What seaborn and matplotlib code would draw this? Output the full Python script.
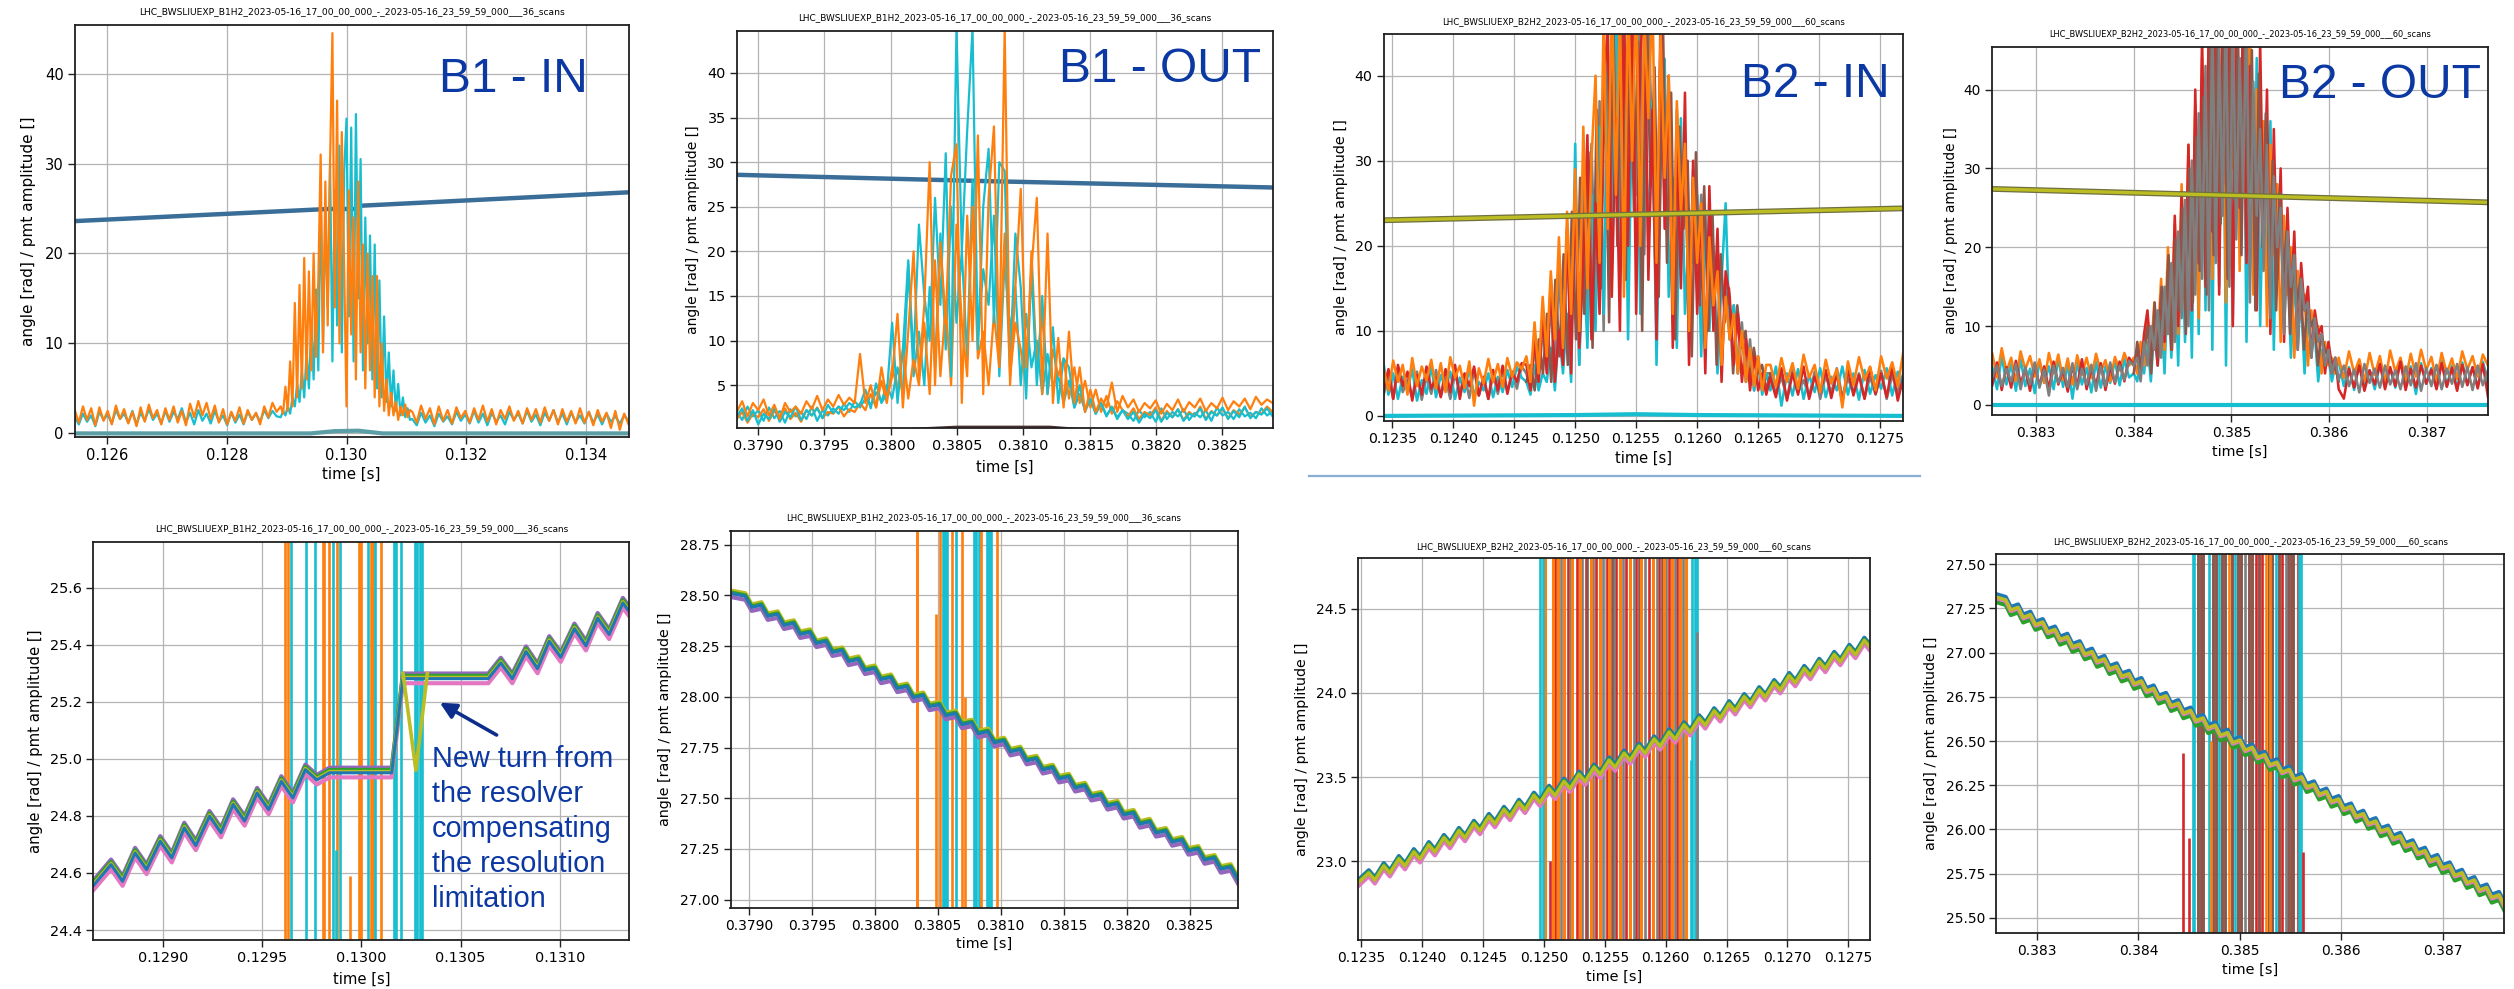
import numpy as np
import matplotlib
matplotlib.use("Agg")
import matplotlib.pyplot as plt
import seaborn as sns
from matplotlib.lines import Line2D
from matplotlib.patches import FancyArrowPatch

# ------------------------------------------------------------------ text
TITLE_B1 = "LHC_BWSLIUEXP_B1H2_2023-05-16_17_00_00_000_-_2023-05-16_23_59_59_000___36_scans"
TITLE_B2 = "LHC_BWSLIUEXP_B2H2_2023-05-16_17_00_00_000_-_2023-05-16_23_59_59_000___60_scans"
YLABEL = "angle [rad] / pmt amplitude []"
XLABEL = "time [s]"
TAGS = ["B1 - IN", "B1 - OUT", "B2 - IN", "B2 - OUT"]
NOTE = ["New turn from", "the resolver", "compensating", "the resolution", "limitation"]

# ------------------------------------------------------------------ tick labels
p1_xt = ["0.126", "0.128", "0.130", "0.132", "0.134"]
p1_yt = ["0", "10", "20", "30", "40"]
p2_xt = ["0.3790", "0.3795", "0.3800", "0.3805", "0.3810", "0.3815", "0.3820", "0.3825"]
p2_yt = ["5", "10", "15", "20", "25", "30", "35", "40"]
p3_xt = ["0.1235", "0.1240", "0.1245", "0.1250", "0.1255", "0.1260", "0.1265", "0.1270", "0.1275"]
p3_yt = ["0", "10", "20", "30", "40"]
p4_xt = ["0.383", "0.384", "0.385", "0.386", "0.387"]
p4_yt = ["0", "10", "20", "30", "40"]
p5_xt = ["0.1290", "0.1295", "0.1300", "0.1305", "0.1310"]
p5_yt = ["24.4", "24.6", "24.8", "25.0", "25.2", "25.4", "25.6"]
p6_xt = p2_xt
p6_yt = ["27.00", "27.25", "27.50", "27.75", "28.00", "28.25", "28.50", "28.75"]
p7_xt = p3_xt
p7_yt = ["23.0", "23.5", "24.0", "24.5"]
p8_xt = p4_xt
p8_yt = ["25.50", "25.75", "26.00", "26.25", "26.50", "26.75", "27.00", "27.25", "27.50"]

# ------------------------------------------------------------------ P1  B1 IN (time segments: baseline / burst / baseline)
p1_seg = [0.125455, 0.1289, 0.1311, 0.134717]
p1_orange = ([2.6, 1.2, 3.0, 1.5, 2.8, 0.9, 2.9, 1.4, 2.5, 1.0, 3.1, 1.6, 2.7, 1.1, 2.4, 0.8, 2.9, 1.3, 3.2, 1.7,
              2.6, 1.0, 2.8, 1.5, 3.0, 1.2, 2.5, 0.9, 3.3, 1.8, 3.6, 2.0, 3.4, 1.6, 3.1, 1.2, 2.7, 1.0, 2.4, 1.4,
              2.9, 1.1, 2.6, 1.5, 2.3, 1.0, 3.0, 1.8, 3.4, 2.4],
             [3.0, 2.2, 5.2, 2.5, 8.0, 3.0, 14.5, 4.0, 16.5, 5.0, 19.5, 6.0, 18.0, 7.0, 20.0, 8.5, 17.0, 31.0, 9.0, 28.0,
              12.0, 30.0, 44.5, 14.0, 37.0, 10.0, 33.5, 18.0, 3.0, 27.0, 11.0, 24.0, 6.0, 28.0, 9.0, 21.0, 5.0, 20.0, 7.0, 17.5,
              4.0, 17.5, 3.0, 10.0, 2.5, 6.0, 2.0, 4.5, 2.0, 3.5, 1.5, 3.0, 2.0, 3.2, 1.8, 2.6],
             [2.4, 1.2, 3.1, 1.6, 2.8, 1.0, 3.0, 1.4, 2.6, 1.1, 2.9, 1.7, 2.5, 1.2, 2.8, 1.5, 3.1, 1.3, 2.7, 1.0,
              2.6, 1.6, 3.0, 1.4, 2.5, 1.1, 2.8, 1.5, 2.7, 1.2, 2.9, 1.4, 2.6, 1.0, 2.7, 1.3, 2.5, 1.1, 2.8, 1.2,
              2.4, 0.9, 2.6, 1.3, 2.3, 0.6, 2.5, 0.4, 2.2, 1.0])
p1_cyan = ([1.8, 1.0, 2.2, 1.3, 2.0, 0.8, 2.4, 1.5, 2.1, 1.1, 2.6, 1.6, 2.2, 1.2, 2.5, 1.0, 2.3, 1.4, 2.7, 1.5,
            2.2, 1.1, 2.5, 1.3, 2.4, 1.6, 2.8, 1.2, 2.3, 1.0, 2.6, 1.4, 2.2, 1.1, 2.5, 1.3, 2.0, 0.9, 2.3, 1.2,
            2.1, 1.0, 2.4, 1.5, 2.2, 1.3, 2.6, 1.7, 2.5, 1.9],
           [1.8, 2.5, 2.0, 3.0, 2.2, 4.0, 3.0, 5.5, 3.5, 7.0, 4.0, 9.0, 5.0, 12.0, 6.0, 16.0, 7.0, 26.0, 10.0, 24.0,
            14.0, 30.0, 8.0, 27.0, 12.0, 32.0, 9.0, 29.0, 35.0, 13.0, 34.0, 8.0, 35.5, 15.0, 30.5, 7.0, 24.0, 10.0, 22.0, 6.0,
            21.0, 5.0, 17.0, 4.0, 13.0, 3.5, 9.0, 3.0, 7.0, 2.5, 5.5, 2.0, 4.0, 1.8, 2.8, 1.5],
           [1.6, 0.9, 2.3, 1.2, 2.0, 0.8, 2.2, 1.3, 1.9, 1.0, 2.4, 1.4, 2.1, 1.1, 2.5, 1.2, 2.2, 0.9, 2.3, 1.3,
            2.0, 1.0, 2.4, 1.5, 2.2, 1.1, 2.5, 1.3, 2.1, 0.9, 2.3, 1.4, 2.6, 1.2, 2.2, 1.0, 2.3, 1.3, 2.0, 1.1,
            2.4, 1.2, 2.1, 1.0, 2.2, 1.3, 1.9, 1.1, 2.0, 1.4])
p1_angle_t = [0.125455, 0.1297, 0.13015, 0.13021, 0.134717]
p1_angle_v = [23.6, 24.95, 24.95, 25.3, 26.8]
p1_zero_t = [0.125455, 0.1294, 0.1298, 0.1302, 0.1306, 0.134717]
p1_zero_v = [0.0, 0.0, 0.25, 0.3, 0.0, 0.0]

# ------------------------------------------------------------------ P2  B1 OUT
p2_seg = [0.37884, 0.379769, 0.381789, 0.38288]
p2_orange_a = ([2.0, 3.2, 1.5, 3.0, 2.2, 3.4, 1.6, 2.8, 1.2, 3.0, 2.0, 2.6, 1.8, 3.2, 2.3, 3.8, 2.2, 3.4, 2.6, 3.9, 2.8, 3.6, 3.0],
               [8.5, 3.0, 5.0, 2.5, 7.0, 3.5, 6.0, 13.0, 2.5, 11.0, 20.0, 6.0, 14.0, 30.0, 5.0, 21.0, 12.0, 28.5, 32.0, 3.0,
                24.0, 10.0, 33.0, 4.0, 26.0, 34.0, 8.0, 45.0, 5.0, 16.0, 27.0, 7.0, 18.0, 26.0, 4.0, 22.0, 3.0, 10.3, 2.5, 11.0,
                3.0, 7.0, 2.0, 4.5, 2.0, 3.5, 2.5, 5.3, 2.0, 3.8],
               [2.5, 3.4, 2.0, 3.0, 2.4, 3.3, 1.8, 2.9, 2.2, 3.4, 2.0, 3.1, 2.5, 3.5, 2.1, 3.0, 2.4, 3.6, 2.2, 3.2,
                2.6, 3.5, 2.3, 3.7, 2.8, 3.4, 3.0])
p2_orange_b = ([1.2, 2.0, 0.8, 1.8, 1.4, 2.3, 1.0, 2.1, 1.5, 2.4, 1.2, 1.9, 0.9, 2.2, 1.6, 2.5, 1.3, 2.0, 1.8, 2.6, 1.5, 2.3, 2.0],
               [3.0, 2.2, 4.0, 2.5, 5.5, 3.0, 7.0, 4.5, 9.0, 3.5, 8.0, 5.0, 12.0, 4.0, 19.0, 6.0, 14.0, 5.0, 23.0, 12.0,
                6.0, 25.0, 8.0, 11.0, 5.0, 13.0, 7.0, 22.0, 6.0, 12.0, 9.0, 5.0, 20.0, 7.0, 13.0, 4.0, 9.0, 6.0, 8.0, 3.5,
                7.0, 3.0, 5.5, 2.5, 4.5, 2.0, 3.8, 1.8, 3.2, 2.2],
               [1.5, 2.4, 1.2, 2.0, 1.6, 2.5, 1.0, 2.1, 1.4, 2.3, 1.1, 2.0, 1.5, 2.6, 1.2, 2.1, 1.6, 2.4, 1.3, 2.2,
                1.7, 2.5, 1.4, 2.0, 1.8, 2.6, 2.0])
p2_cyan_a = ([1.5, 2.4, 1.0, 2.2, 0.6, 1.8, 1.2, 2.5, 0.9, 2.0, 1.4, 2.6, 1.1, 2.2, 1.6, 2.4, 1.3, 2.8, 1.9, 2.6, 2.2, 3.0, 2.5],
             [2.8, 4.5, 2.4, 5.2, 3.0, 4.0, 12.0, 3.0, 9.0, 19.0, 8.0, 23.0, 15.0, 10.0, 26.0, 14.0, 31.0, 6.0, 45.0, 20.0,
              33.5, 45.0, 9.0, 25.0, 31.5, 12.0, 30.0, 29.0, 7.0, 22.0, 16.0, 3.5, 18.0, 5.0, 15.0, 4.0, 11.5, 3.0, 8.0, 7.0,
              2.5, 5.0, 2.0, 3.5, 1.8, 3.0, 1.5, 2.6, 1.2, 2.2],
             [1.2, 2.0, 0.8, 1.8, 1.3, 2.2, 0.9, 1.9, 1.4, 2.3, 1.0, 1.8, 1.5, 2.4, 1.1, 2.0, 1.6, 2.5, 1.2, 2.1,
              1.4, 2.6, 1.3, 2.0, 1.7, 2.4, 1.5])
p2_cyan_b = ([2.0, 1.1, 2.6, 1.5, 2.2, 1.0, 2.5, 1.3, 2.1, 0.8, 2.3, 1.5, 2.0, 1.2, 2.6, 1.0, 2.2, 1.6, 2.4, 1.8, 2.9, 2.0, 3.2],
             [2.5, 3.5, 2.8, 4.2, 3.2, 5.0, 3.5, 7.0, 4.0, 18.5, 6.0, 11.0, 5.0, 16.0, 7.0, 22.0, 9.0, 25.0, 12.0, 20.0,
              8.0, 28.0, 10.0, 18.0, 14.0, 24.0, 6.0, 19.0, 11.0, 16.0, 5.0, 13.0, 7.0, 10.0, 4.0, 8.5, 5.0, 6.0, 3.0, 5.5,
              2.5, 4.0, 2.2, 3.4, 1.8, 3.0, 1.6, 2.5, 1.4, 2.2],
             [1.8, 1.0, 2.2, 1.4, 2.0, 0.9, 2.4, 1.2, 2.0, 1.5, 2.3, 1.1, 1.9, 1.4, 2.2, 1.0, 2.5, 1.6, 2.0, 1.2,
              2.3, 1.5, 1.9, 1.3, 2.4, 1.6, 2.1])
p2_angle_t = [0.37884, 0.3807, 0.38288]
p2_angle_v = [28.58, 27.88, 27.16]
p2_zero_t = [0.37884, 0.38, 0.3805, 0.3812, 0.3815, 0.38288]
p2_zero_v = [0.0, 0.0, 0.35, 0.35, 0.0, 0.0]

# ------------------------------------------------------------------ P3  B2 IN
p3_seg = [0.12343, 0.1246, 0.1266, 0.12769]
p3_orange = ([5.5, 3.0, 6.5, 4.0, 6.0, 2.5, 6.8, 3.5, 5.8, 4.2, 6.6, 3.2, 6.2, 2.8, 6.9, 4.5, 5.9, 3.3, 6.4, 1.2,
              5.6, 3.8, 6.7, 4.0, 6.1, 3.4, 6.8, 4.6, 6.3, 5.5],
             [7, 4, 11, 5, 14, 7, 17, 9, 21, 8, 24, 12, 29, 10, 34, 15, 30, 40, 18, 47, 22, 50, 26, 48, 14, 50, 30, 50, 20, 47,
              35, 50, 18, 45, 28, 40, 12, 37, 24, 32, 10, 28, 18, 25, 8, 21, 13, 17, 6, 14, 9, 12, 5, 10, 4, 8, 3.5, 7, 3, 6],
             [6.0, 3.5, 6.8, 4.0, 6.2, 3.2, 7.2, 4.5, 6.0, 2.8, 6.6, 3.8, 5.5, 1.0, 6.4, 3.6, 6.9, 4.2, 5.8, 3.0,
              7.0, 4.4, 6.3, 3.5, 7.5])
p3_red = ([3.0, 5.5, 2.0, 6.0, 3.5, 5.2, 1.8, 4.8, 2.5, 5.8, 3.2, 4.5, 2.2, 5.5, 2.8, 6.0, 2.0, 5.0, 3.5, 5.8,
           2.4, 4.6, 2.0, 5.4, 3.0, 5.9, 2.6, 5.2, 4.0, 6.2],
          [6, 3, 9, 4, 12, 5, 16, 4, 10, 6, 22, 5, 27, 8, 18, 33, 9, 25, 12, 38, 46, 14, 35, 10, 48, 20, 50, 12, 42, 50,
           16, 36, 9, 48, 22, 40, 8, 33, 15, 38, 6, 30, 12, 25, 5, 27, 10, 22, 4, 17, 14, 6, 12, 4, 9, 3, 7, 3, 5, 2.5],
          [4.5, 2.2, 5.6, 1.8, 5.0, 2.5, 5.8, 2.0, 4.6, 2.8, 5.4, 2.1, 5.0, 1.6, 5.5, 2.4, 4.8, 2.0, 5.7, 2.6,
           5.0, 2.2, 5.8, 1.8, 4.5])
p3_cyan = ([6.0, 2.5, 5.0, 2.0, 4.6, 3.0, 5.5, 1.8, 4.2, 2.6, 5.8, 2.2, 4.8, 3.2, 5.2, 2.0, 4.5, 2.8, 5.6, 2.4,
            4.0, 3.0, 5.0, 2.2, 4.6, 2.8, 5.4, 3.4, 5.8, 4.5],
           [4, 2.5, 6, 3, 5, 4, 8, 3, 10, 5, 12, 4, 32, 6, 20, 8, 26, 10, 34, 12, 40, 16, 50, 18, 45, 9, 38, 50, 12, 44,
            20, 37, 6, 30, 42, 14, 28, 8, 35, 12, 22, 18, 26, 7, 24, 10, 20, 5, 16, 25, 9, 13, 5, 10, 4, 8, 3, 6, 2.5, 5],
           [3.0, 5.8, 1.2, 5.0, 2.4, 5.5, 2.0, 4.8, 2.8, 5.6, 2.2, 4.6, 3.0, 5.8, 2.5, 5.0, 1.9, 5.4, 2.6, 4.8,
            3.2, 5.6, 2.4, 5.2, 3.0])
p3_grey = ([2.5, 4.8, 2.0, 5.6, 2.8, 4.2, 2.2, 5.2, 1.9, 4.6, 2.6, 5.4, 2.3, 4.4, 2.0, 5.0, 2.7, 4.8, 2.1, 5.5,
            2.4, 4.3, 2.0, 4.9, 2.6, 5.3, 2.9, 5.0, 3.2, 5.8],
           [5, 3, 8, 4, 10, 6, 13, 5, 17, 7, 20, 9, 25, 6, 28, 11, 32, 14, 37, 10, 43, 18, 50, 22, 46, 15, 50, 26, 50, 19,
            48, 30, 13, 44, 24, 39, 11, 36, 20, 33, 9, 29, 15, 26, 7, 23, 12, 20, 6, 16, 9, 13, 5, 11, 4, 9, 3, 7, 3, 5],
           [5.0, 2.6, 4.6, 2.0, 5.4, 2.8, 4.2, 2.3, 5.2, 2.0, 4.8, 2.6, 5.6, 2.2, 4.4, 2.8, 5.0, 2.1, 4.6, 2.5,
            5.3, 2.0, 4.8, 2.7, 5.0])
p3_brown_burst = [4, 6, 3, 9, 5, 12, 4, 16, 7, 19, 6, 24, 9, 28, 12, 31, 8, 36, 15, 41, 11, 47, 20, 50, 16, 50, 24, 44, 10, 50,
                  27, 41, 14, 47, 18, 38, 9, 34, 22, 30, 7, 31, 13, 27, 10, 24, 6, 19, 11, 15, 5, 13, 8, 10, 4, 8, 5, 6, 3, 5]
p3_angle_t = [0.12343, 0.12769]
p3_angle_v = [23.0, 24.4]
p3_zero_t = [0.12343, 0.125, 0.1255, 0.126, 0.12769]
p3_zero_v = [0.0, 0.1, 0.2, 0.1, 0.0]

# ------------------------------------------------------------------ P4  B2 OUT
p4_seg = [0.38255, 0.3840, 0.3861, 0.38763]
p4_orange = ([6.5, 3.5, 7.2, 4.2, 6.0, 3.0, 6.8, 4.5, 6.2, 3.6, 5.8, 2.8, 6.6, 4.0, 6.4, 3.2, 5.9, 2.6, 6.3, 3.8,
              6.0, 3.4, 6.5, 4.2, 5.7, 3.0, 6.1, 4.4, 6.6, 5.0],
             [6, 4, 8, 5, 11, 6, 13, 8, 16, 7, 20, 10, 23, 9, 28, 12, 33, 15, 38, 11, 44, 20, 50, 16, 50, 26, 48, 13, 50, 30,
              50, 17, 47, 22, 50, 14, 40, 27, 36, 10, 33, 19, 28, 8, 24, 14, 20, 6, 17, 11, 14, 5, 12, 8, 10, 4, 8, 5, 6, 4],
             [6.0, 3.4, 6.8, 4.0, 5.8, 3.0, 6.6, 3.8, 6.2, 2.8, 6.9, 4.2, 6.0, 3.2, 6.5, 3.6, 7.0, 4.4, 6.1, 3.0,
              6.6, 4.0, 5.9, 3.3, 6.8, 4.5, 6.2, 3.6, 6.4, 5.0])
p4_red = ([2.5, 5.4, 1.9, 4.8, 2.2, 5.6, 2.8, 4.5, 1.8, 5.2, 2.4, 4.9, 2.0, 5.5, 2.6, 4.4, 1.7, 5.0, 2.3, 5.8,
           2.0, 4.6, 2.5, 5.3, 1.9, 4.8, 2.7, 5.5, 3.0, 6.0],
          [5, 7, 4, 9, 12, 6, 10, 5, 14, 8, 17, 7, 24, 10, 27, 13, 33, 12, 40, 18, 47, 15, 50, 22, 50, 14, 50, 28, 50, 10,
           48, 25, 50, 18, 43, 30, 12, 46, 20, 40, 9, 35, 16, 30, 8, 25, 13, 22, 7, 18, 12, 15, 6, 12, 9, 10, 4, 8, 5, 6],
          [2.0, 0.8, 4.6, 2.2, 5.0, 1.8, 4.4, 2.6, 5.2, 2.0, 4.8, 2.4, 5.5, 1.9, 4.6, 2.2, 5.0, 2.7, 4.5, 2.0,
           5.3, 2.3, 4.7, 1.8, 5.1, 2.5, 4.8, 2.1, 5.2, 1.0])
p4_cyan = ([4.8, 2.0, 6.2, 2.6, 5.2, 1.8, 5.8, 2.4, 4.6, 1.5, 5.6, 2.8, 4.9, 2.0, 6.0, 2.3, 5.1, 0.8, 5.4, 2.6,
            4.7, 1.6, 5.5, 2.2, 4.9, 2.8, 5.6, 2.5, 5.8, 3.5],
           [4, 3, 6, 4, 8, 3, 10, 5, 13, 4, 16, 6, 19, 5, 23, 8, 29, 6, 35, 9, 41, 12, 50, 7, 47, 15, 50, 5, 50, 11,
            45, 20, 50, 8, 38, 16, 44, 10, 31, 14, 36, 7, 28, 23, 12, 19, 6, 16, 9, 13, 4, 11, 7, 9, 3, 7, 5, 6, 3, 5],
           [5.5, 2.4, 4.8, 1.9, 5.6, 2.6, 4.4, 2.0, 5.2, 2.8, 4.6, 2.2, 5.8, 2.5, 4.9, 1.4, 5.3, 2.7, 4.7, 2.1,
            5.6, 2.4, 5.0, 2.0, 5.4, 2.6, 4.8, 2.3, 5.5, 3.0])
p4_grey = ([3.5, 5.0, 2.4, 4.6, 3.0, 5.2, 2.0, 4.8, 2.6, 5.4, 2.2, 4.5, 1.2, 5.0, 2.8, 4.7, 2.3, 5.3, 2.0, 4.6,
            2.6, 5.1, 1.8, 4.9, 2.4, 5.4, 2.9, 5.0, 3.2, 5.6],
           [5, 6, 3, 8, 5, 10, 7, 12, 6, 15, 9, 18, 8, 22, 11, 26, 10, 31, 14, 37, 16, 43, 12, 50, 18, 46, 24, 50, 15, 50,
            21, 44, 27, 50, 13, 41, 24, 35, 17, 33, 11, 29, 20, 25, 9, 22, 15, 19, 7, 16, 12, 13, 6, 11, 8, 9, 5, 7, 4, 6],
           [3.2, 5.0, 2.4, 4.5, 1.6, 5.2, 2.8, 4.6, 2.2, 5.0, 2.6, 4.4, 2.0, 4.9, 2.5, 5.3, 1.8, 4.7, 2.4, 5.1,
            2.0, 4.6, 2.7, 5.2, 2.3, 4.8, 1.9, 5.0, 2.5, 4.4])
p4_brown_burst = [4, 8, 5, 7, 10, 4, 13, 6, 15, 9, 19, 7, 21, 12, 25, 9, 30, 13, 34, 17, 39, 14, 46, 19, 50, 23, 50, 16, 50, 26,
                  47, 19, 50, 24, 45, 12, 42, 20, 37, 15, 31, 12, 27, 16, 22, 9, 19, 13, 16, 7, 13, 10, 11, 5, 9, 7, 6, 4, 5, 3]
p4_angle_t = [0.38255, 0.38763]
p4_angle_v = [27.4, 25.7]
p4_zero_t = [0.38255, 0.38763]
p4_zero_v = [0.0, 0.0]

# ------------------------------------------------------------------ bottom panels: resolver angle (zoomed)
SPIKE_LO, SPIKE_HI = 0.0, 45.0
TOOTH_LAG = 0.00005

p5_angle_t = [0.12865, 0.128739, 0.128797, 0.12886, 0.128918, 0.128987, 0.129045, 0.129108, 0.129166, 0.129235,
              0.129293, 0.129354, 0.129412, 0.129475, 0.129533, 0.129597, 0.129655, 0.129718, 0.129776, 0.12984,
              0.130153, 0.13021, 0.13064, 0.130703, 0.130761, 0.13083, 0.130888, 0.130947, 0.131005, 0.131074,
              0.131132, 0.131191, 0.131249, 0.131318, 0.13135]
p5_angle_v = [24.56, 24.633, 24.575, 24.674, 24.616, 24.715, 24.657, 24.762, 24.70, 24.803,
              24.745, 24.844, 24.786, 24.884, 24.826, 24.925, 24.867, 24.966, 24.93, 24.955,
              24.955, 25.285, 25.285, 25.34, 25.285, 25.38, 25.32, 25.416, 25.36, 25.46,
              25.40, 25.497, 25.44, 25.55, 25.52]
p5_dip_t = [0.13021, 0.130275, 0.130333]
p5_dip_v = [25.30, 24.96, 25.30]
p5_spk_orange = [0.129614, 0.129629, 0.129807, 0.129814, 0.129835, 0.129877, 0.129989, 0.130000, 0.130047, 0.130059, 0.130100]
p5_spk_cyan = [0.129644, 0.129722, 0.129767, 0.129856, 0.129894, 0.130032, 0.130068, 0.130163, 0.130174, 0.130201,
               0.130269, 0.130280, 0.130294, 0.130305]
p5_part_t = [0.129941, 0.129871]
p5_part_hi = [24.59, 24.68]

p6_start = (0.378855, 28.51)
p6_end = (0.38288, 27.10)
p6_peak_t = [0.378973, 0.379101, 0.379230, 0.379358, 0.379487, 0.379615, 0.379743, 0.379872, 0.380000, 0.380129,
             0.380257, 0.380385, 0.380514, 0.380642, 0.380771, 0.380899, 0.381027, 0.381156, 0.381284, 0.381413,
             0.381541, 0.381669, 0.381798, 0.381926, 0.382055, 0.382183, 0.382311, 0.382440, 0.382568, 0.382697, 0.382825]
p6_peak_v = [28.496, 28.452, 28.407, 28.363, 28.318, 28.274, 28.229, 28.185, 28.140, 28.096,
             28.051, 28.007, 27.962, 27.918, 27.873, 27.829, 27.784, 27.740, 27.695, 27.651,
             27.606, 27.562, 27.517, 27.473, 27.428, 27.384, 27.339, 27.295, 27.250, 27.206, 27.161]
p6_valley_v = [28.441, 28.397, 28.352, 28.308, 28.263, 28.219, 28.174, 28.130, 28.085, 28.041,
               27.996, 27.952, 27.907, 27.863, 27.818, 27.774, 27.729, 27.685, 27.640, 27.596,
               27.551, 27.507, 27.462, 27.418, 27.373, 27.329, 27.284, 27.240, 27.195, 27.151, 27.106]
p6_spk_orange = [0.380334, 0.380338, 0.38052, 0.38061, 0.38069, 0.38084, 0.380973]
p6_spk_cyan = [0.38054, 0.38055, 0.38056, 0.38057, 0.380645, 0.380784, 0.380804, 0.38083, 0.38089, 0.380905, 0.380926]
p6_part_t = [0.380486, 0.38072]
p6_part_hi = [28.41, 28.0]

p7_start = (0.12347, 22.87)
p7_peak_t = [0.123562, 0.123685, 0.123809, 0.123932, 0.124055, 0.124179, 0.124302, 0.124425, 0.124548, 0.124672,
             0.124795, 0.124918, 0.125042, 0.125165, 0.125288, 0.125412, 0.125535, 0.125658, 0.125781, 0.125905,
             0.126028, 0.126151, 0.126275, 0.126398, 0.126521, 0.126645, 0.126768, 0.126891, 0.127014, 0.127138,
             0.127261, 0.127384, 0.127508, 0.127631]
p7_peak_v = [22.932, 22.974, 23.016, 23.057, 23.099, 23.141, 23.183, 23.225, 23.266, 23.308,
             23.350, 23.392, 23.433, 23.475, 23.517, 23.559, 23.601, 23.642, 23.684, 23.726,
             23.768, 23.810, 23.851, 23.893, 23.935, 23.977, 24.018, 24.060, 24.102, 24.144,
             24.186, 24.227, 24.269, 24.311]
p7_valley_v = [22.889, 22.931, 22.973, 23.014, 23.056, 23.098, 23.140, 23.182, 23.223, 23.265,
               23.307, 23.349, 23.390, 23.432, 23.474, 23.516, 23.558, 23.599, 23.641, 23.683,
               23.725, 23.767, 23.808, 23.850, 23.892, 23.934, 23.975, 24.017, 24.059, 24.101,
               24.143, 24.184, 24.226, 24.268]
p7_spk_cyan = [0.124966, 0.12499, 0.126216, 0.12624, 0.12626]
p7_spk_orange = [0.125007, 0.125075, 0.125116, 0.125161, 0.125229, 0.125298, 0.125384, 0.125459, 0.125538, 0.125623,
                 0.125709, 0.125795, 0.125897, 0.125983, 0.126051, 0.12612, 0.126164]
p7_spk_red = [0.125092, 0.125195, 0.125274, 0.125349, 0.125428, 0.125514, 0.125589, 0.125675, 0.12576, 0.125863,
              0.125949, 0.126027, 0.126096]
p7_spk_grey = [0.125137, 0.125212, 0.125315, 0.125401, 0.125486, 0.125572, 0.125651, 0.125736, 0.125829, 0.125925,
               0.126, 0.126075, 0.126144]
p7_spk_brown = [0.125168, 0.125356, 0.125562, 0.125777, 0.125966]
p7_part_t = [0.125051, 0.126257, 0.126205]
p7_part_hi = [23.0, 24.36, 23.6]

p8_start = (0.382598, 27.31)
p8_peak_t = [0.382691, 0.382813, 0.382934, 0.383056, 0.383177, 0.383299, 0.383421, 0.383542, 0.383664, 0.383785,
             0.383907, 0.384029, 0.384150, 0.384272, 0.384393, 0.384515, 0.384637, 0.384758, 0.384880, 0.385001,
             0.385123, 0.385245, 0.385366, 0.385488, 0.385609, 0.385731, 0.385853, 0.385974, 0.386096, 0.386217,
             0.386339, 0.386461, 0.386582, 0.386704, 0.386825, 0.386947, 0.387069, 0.387190, 0.387312, 0.387433, 0.387555]
p8_peak_v = [27.294, 27.252, 27.211, 27.169, 27.127, 27.086, 27.044, 27.002, 26.961, 26.919,
             26.877, 26.836, 26.794, 26.752, 26.711, 26.669, 26.627, 26.586, 26.544, 26.502,
             26.461, 26.419, 26.377, 26.336, 26.294, 26.252, 26.211, 26.169, 26.127, 26.086,
             26.044, 26.002, 25.961, 25.919, 25.877, 25.836, 25.794, 25.752, 25.711, 25.669, 25.627]
p8_valley_v = [27.237, 27.195, 27.154, 27.112, 27.070, 27.029, 26.987, 26.945, 26.904, 26.862,
               26.820, 26.779, 26.737, 26.695, 26.654, 26.612, 26.570, 26.529, 26.487, 26.445,
               26.404, 26.362, 26.320, 26.279, 26.237, 26.195, 26.154, 26.112, 26.070, 26.029,
               25.987, 25.945, 25.904, 25.862, 25.820, 25.779, 25.737, 25.695, 25.654, 25.612, 25.570]
p8_spk_brown = [0.384583, 0.384614, 0.384641, 0.384737, 0.384768, 0.384822, 0.384853, 0.384923, 0.384977, 0.385008,
                0.385085, 0.385116, 0.385193, 0.385286, 0.385317, 0.385386, 0.385471, 0.385502, 0.385521]
p8_spk_cyan = [0.384537, 0.384552, 0.384699, 0.384795, 0.38495, 0.385355, 0.385587, 0.385606]
p8_spk_orange = [0.384892, 0.385259, 0.385297]
p8_spk_red = [0.385162, 0.38522, 0.385413, 0.385575]
p8_spk_grey = [0.385046, 0.385452]
p8_part_t = [0.38444, 0.384494, 0.385618, 0.384718]
p8_part_hi = [26.43, 25.95, 25.87, 26.5]

# ------------------------------------------------------------------ styles
ORANGE, CYAN, RED, GREY, BROWN = "#ff7f0e", "#17becf", "#d62728", "#7f7f7f", "#8c564b"
OLIVE, PINK, PURPLE, GREEN, BLUE = "#bcbd22", "#e377c2", "#9467bd", "#2ca02c", "#1f77b4"
ANGLE_B1 = "#3a6e98"
TAG_BLUE = "#0b38a2"
ARROW_BLUE = "#0d2d8c"

W, H = 2514, 989
SPECS = [
    dict(box=(74.7, 25, 628.6, 437), xlim=(0.125455, 0.134717), ylim=(-0.4, 45.4), title_y=12, title_fs=6.6,
         tick_fs=10.6, xlab_fs=10.8, ylab_x=28.6, ylab_fs=11.0, xlab_y=474),
    dict(box=(736.8, 31, 1272.6, 428), xlim=(0.37884, 0.38288), ylim=(0.2, 44.7), title_y=18, title_fs=6.4,
         tick_fs=10.4, xlab_fs=10.6, ylab_x=692.6, ylab_fs=10.0, xlab_y=467),
    dict(box=(1383.7, 34, 1903.3, 421), xlim=(0.12343, 0.12769), ylim=(-0.6, 44.9), title_y=22, title_fs=6.2,
         tick_fs=10.2, xlab_fs=10.5, ylab_x=1340.8, ylab_fs=10.4, xlab_y=458),
    dict(box=(1992.3, 47, 2488, 415), xlim=(0.38255, 0.38763), ylim=(-1.27, 45.4), title_y=34, title_fs=5.95,
         tick_fs=9.9, xlab_fs=10.3, ylab_x=1951, ylab_fs=9.9, xlab_y=452),
    dict(box=(93.4, 542, 629.2, 940), xlim=(0.12865, 0.13135), ylim=(24.365, 25.76), title_y=529, title_fs=6.4,
         tick_fs=10.4, xlab_fs=10.6, ylab_x=35.8, ylab_fs=10.7, xlab_y=979),
    dict(box=(730.5, 531, 1237.6, 908), xlim=(0.378855, 0.38288), ylim=(26.959, 28.817), title_y=518, title_fs=6.1,
         tick_fs=10.0, xlab_fs=10.4, ylab_x=665.3, ylab_fs=10.3, xlab_y=944),
    dict(box=(1357.6, 558, 1870.3, 940), xlim=(0.12347, 0.12768), ylim=(22.534, 24.80), title_y=547, title_fs=6.1,
         tick_fs=10.0, xlab_fs=10.4, ylab_x=1302, ylab_fs=10.3, xlab_y=977),
    dict(box=(1996.3, 554, 2504.2, 933), xlim=(0.382598, 0.387606), ylim=(25.415, 27.557), title_y=542, title_fs=6.1,
         tick_fs=10.0, xlab_fs=10.4, ylab_x=1931, ylab_fs=10.3, xlab_y=970),
]
TAG_POS = [(439, 91.7), (1058.8, 81.7), (1740.8, 96.7), (2278.6, 98.3)]
TAG_FS = 34.5
NOTE_POS = (432.2, 767.3)
NOTE_STEP = 35.0
NOTE_FS = 20.8
ARROW_TAIL = (496.6, 735.0)
ARROW_HEAD = (439.8, 702.7)
SEPARATOR = ((1309, 1920), 476)
B1_LW = 1.6
B2_LW = 1.85

# ------------------------------------------------------------------ helpers
fig = plt.figure(figsize=(W / 100, H / 100), dpi=100)
fig.patch.set_facecolor("white")


def px_axes(box):
    l, t, r, b = box
    return fig.add_axes([l / W, 1 - b / H, (r - l) / W, (b - t) / H])


def seg_grid(bounds, parts):
    xs = []
    for i, p in enumerate(parts):
        last = i == len(parts) - 1
        xs.append(np.linspace(bounds[i], bounds[i + 1], len(p), endpoint=last))
    return np.concatenate(xs), np.concatenate([np.asarray(p, float) for p in parts])


def line(ax, x, y, color, lw, z=2.0):
    sns.lineplot(x=np.asarray(x, float), y=np.asarray(y, float), ax=ax, color=color, linewidth=lw,
                 estimator=None, sort=False, legend=False, zorder=z)


def trace(ax, bounds, parts, color, lw=1.5, z=2.0):
    x, y = seg_grid(bounds, parts)
    line(ax, x, y, color, lw, z)


def teeth(start, peak_t, peak_v, valley_v, end=None):
    ts, vs = [start[0]], [start[1]]
    for tp, vp, vv in zip(peak_t, peak_v, valley_v):
        ts += [tp, tp + TOOTH_LAG]
        vs += [vp, vv]
    if end is not None:
        ts.append(end[0]); vs.append(end[1])
    return np.array(ts), np.array(vs)


def spikes(ax, ts, color, hi=SPIKE_HI, lw=1.9, z=1.8):
    ax.vlines(ts, SPIKE_LO, hi, colors=color, linewidth=lw, zorder=z)


def scans(ax, t, v, styles):
    for color, off, lw in styles:
        line(ax, t, np.asarray(v) + off, color, lw, z=2.5)


def finish(ax, spec, title, xt, yt):
    l, t, r, b = spec["box"]
    w, h = r - l, b - t
    ax.set_xlim(*spec["xlim"])
    ax.set_ylim(*spec["ylim"])
    ax.set_xticks([float(s) for s in xt], labels=xt)
    ax.set_yticks([float(s) for s in yt], labels=yt)
    ax.tick_params(axis="both", labelsize=spec["tick_fs"], length=5, width=1.0, pad=3, color="#222222")
    ax.grid(True, color="#b4b4b4", linewidth=0.9)
    ax.set_axisbelow(True)
    for sp in ax.spines.values():
        sp.set_color("#202020")
        sp.set_linewidth(1.3)
    ax.set_xlabel(XLABEL, fontsize=spec["xlab_fs"], va="center")
    ax.xaxis.set_label_coords(0.5, -(spec["xlab_y"] - b) / h)
    ax.set_ylabel(YLABEL, fontsize=spec["ylab_fs"], va="center")
    ax.yaxis.set_label_coords((spec["ylab_x"] - l) / w, 0.5)
    ax.text(0.5, 1 + (t - spec["title_y"]) / h, title, transform=ax.transAxes,
            ha="center", va="center", fontsize=spec["title_fs"])


axes = [px_axes(s["box"]) for s in SPECS]
a1, a2, a3, a4, a5, a6, a7, a8 = axes

# ---- P1
line(a1, p1_angle_t, p1_angle_v, ANGLE_B1, 3.2, z=1.9)
trace(a1, p1_seg, p1_cyan, CYAN, B1_LW, 2.0)
trace(a1, p1_seg, p1_orange, ORANGE, B1_LW, 2.1)
line(a1, p1_zero_t, p1_zero_v, "#5b9ea6", 3.0, z=2.2)
finish(a1, SPECS[0], TITLE_B1, p1_xt, p1_yt)

# ---- P2
line(a2, p2_angle_t, p2_angle_v, ANGLE_B1, 3.2, z=1.9)
line(a2, p2_zero_t, p2_zero_v, "#4a3030", 1.5, z=1.95)
trace(a2, p2_seg, p2_cyan_b, CYAN, B1_LW, 2.0)
trace(a2, p2_seg, p2_orange_b, ORANGE, B1_LW, 2.05)
trace(a2, p2_seg, p2_cyan_a, CYAN, B1_LW, 2.1)
trace(a2, p2_seg, p2_orange_a, ORANGE, B1_LW, 2.15)
finish(a2, SPECS[1], TITLE_B1, p2_xt, p2_yt)

# ---- P3
trace(a3, p3_seg, p3_grey, GREY, B2_LW, 2.0)
trace(a3, p3_seg, p3_cyan, CYAN, B2_LW, 2.05)
line(a3, np.linspace(p3_seg[1], p3_seg[2], len(p3_brown_burst)), p3_brown_burst, BROWN, B2_LW, z=2.08)
trace(a3, p3_seg, p3_red, RED, B2_LW, 2.1)
trace(a3, p3_seg, p3_orange, ORANGE, B2_LW, 2.15)
line(a3, p3_zero_t, p3_zero_v, CYAN, 3.0, z=2.3)
line(a3, p3_angle_t, p3_angle_v, "#6f6f3f", 4.2, z=2.4)
line(a3, p3_angle_t, p3_angle_v, OLIVE, 2.4, z=2.45)
finish(a3, SPECS[2], TITLE_B2, p3_xt, p3_yt)

# ---- P4
trace(a4, p4_seg, p4_cyan, CYAN, B2_LW, 2.0)
trace(a4, p4_seg, p4_orange, ORANGE, B2_LW, 2.05)
trace(a4, p4_seg, p4_red, RED, B2_LW, 2.1)
line(a4, np.linspace(p4_seg[1], p4_seg[2], len(p4_brown_burst)), p4_brown_burst, BROWN, B2_LW, z=2.12)
trace(a4, p4_seg, p4_grey, GREY, B2_LW, 2.15)
line(a4, p4_zero_t, p4_zero_v, CYAN, 3.0, z=2.3)
line(a4, p4_angle_t, p4_angle_v, "#6f6f3f", 4.2, z=2.4)
line(a4, p4_angle_t, p4_angle_v, OLIVE, 2.4, z=2.45)
finish(a4, SPECS[3], TITLE_B2, p4_xt, p4_yt)

# ---- P5
spikes(a5, p5_spk_orange, ORANGE)
spikes(a5, p5_spk_cyan, CYAN)
spikes(a5, p5_part_t, [ORANGE, CYAN], hi=p5_part_hi)
scans(a5, p5_angle_t, p5_angle_v,
      [(PURPLE, 0.014, 3.0), (PINK, -0.02, 3.0), (GREEN, 0.006, 3.0), (OLIVE, 0.0, 2.6), (BLUE, -0.004, 2.2)])
line(a5, p5_dip_t, p5_dip_v, OLIVE, 2.6, z=2.6)
finish(a5, SPECS[4], TITLE_B1, p5_xt, p5_yt)

# ---- P6
spikes(a6, p6_spk_cyan, CYAN)
spikes(a6, p6_spk_orange, ORANGE)
spikes(a6, p6_part_t, ORANGE, hi=p6_part_hi)
t6, v6 = teeth(p6_start, p6_peak_t, p6_peak_v, p6_valley_v, p6_end)
scans(a6, t6, v6, [(PURPLE, -0.018, 3.0), (OLIVE, 0.014, 3.0), (GREEN, 0.004, 3.0), (BLUE, 0.0, 2.2)])
finish(a6, SPECS[5], TITLE_B1, p6_xt, p6_yt)

# ---- P7
spikes(a7, p7_spk_red, RED)
spikes(a7, p7_spk_grey, GREY)
spikes(a7, p7_spk_brown, BROWN)
spikes(a7, p7_spk_orange, ORANGE, lw=2.2)
spikes(a7, p7_spk_cyan, CYAN)
spikes(a7, p7_part_t, [RED, GREY, CYAN], hi=p7_part_hi)
t7, v7 = teeth(p7_start, p7_peak_t, p7_peak_v, p7_valley_v)
scans(a7, t7, v7, [(BLUE, 0.016, 3.0), (PINK, -0.02, 3.0), (GREEN, 0.004, 3.0), (OLIVE, 0.0, 2.4)])
finish(a7, SPECS[6], TITLE_B2, p7_xt, p7_yt)

# ---- P8
spikes(a8, p8_spk_brown, BROWN, lw=2.1)
spikes(a8, p8_spk_grey, GREY)
spikes(a8, p8_spk_orange, ORANGE)
spikes(a8, p8_spk_red, RED)
spikes(a8, p8_spk_cyan, CYAN)
spikes(a8, p8_part_t, [RED, RED, RED, ORANGE], hi=p8_part_hi)
t8, v8 = teeth(p8_start, p8_peak_t, p8_peak_v, p8_valley_v)
scans(a8, t8, v8, [(BLUE, 0.02, 3.0), (GREEN, -0.025, 3.0), (PINK, -0.002, 3.0), (OLIVE, 0.004, 2.4)])
finish(a8, SPECS[7], TITLE_B2, p8_xt, p8_yt)

# ---- slide annotations
for tag, (x, y) in zip(TAGS, TAG_POS):
    fig.text(x / W, 1 - y / H, tag, fontsize=TAG_FS, color=TAG_BLUE, family="Liberation Sans",
             ha="left", va="baseline")
for i, s in enumerate(NOTE):
    fig.text(NOTE_POS[0] / W, 1 - (NOTE_POS[1] + i * NOTE_STEP) / H, s, fontsize=NOTE_FS,
             color=TAG_BLUE, family="Liberation Sans", ha="left", va="baseline")
fig.add_artist(FancyArrowPatch(posA=(ARROW_TAIL[0] / W, 1 - ARROW_TAIL[1] / H),
                               posB=(ARROW_HEAD[0] / W, 1 - ARROW_HEAD[1] / H),
                               transform=fig.transFigure, arrowstyle="-|>", mutation_scale=24,
                               linewidth=2.6, color=ARROW_BLUE, shrinkA=0, shrinkB=0))
(sx0, sx1), sy = SEPARATOR
fig.add_artist(Line2D([sx0 / W, sx1 / W], [1 - sy / H, 1 - sy / H], transform=fig.transFigure,
                      color="#8aaed3", linewidth=1.6))

fig.savefig("out.png", dpi=100, facecolor="white")
